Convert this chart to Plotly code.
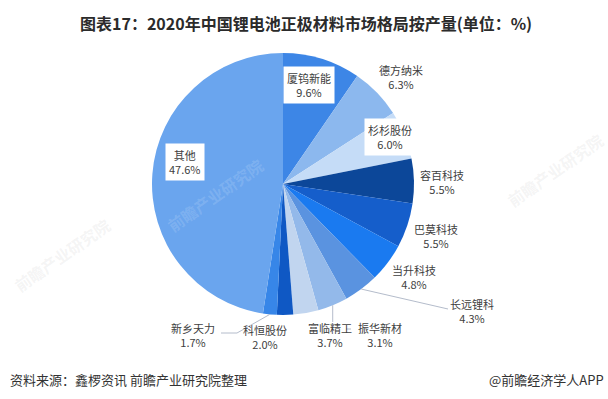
import math
import plotly.graph_objects as go

# ---- data ----
companies = ["厦钨新能", "德方纳米", "杉杉股份", "容百科技", "巴莫科技", "当升科技",
             "长远锂科", "富临精工", "振华新材", "科恒股份", "新乡天力", "其他"]
shares = [9.6, 6.3, 6.0, 5.5, 5.5, 4.8, 4.3, 3.7, 3.1, 2.0, 1.7, 47.6]

# ---- styles ----
colors = ["#3d86e6", "#8cb8ee", "#c5dcf7", "#0c4799", "#155ecb", "#1a7af0",
          "#5a93e0", "#93b9ea", "#c1d5ef", "#0f58c4", "#3786e8", "#6aa5ee"]
W, H = 608, 399
CX, CY, R = 283, 184, 131

# label centre positions in pixels (layout)
label_pos = {
    "厦钨新能": (309, 85), "德方纳米": (401, 77), "杉杉股份": (390, 137),
    "容百科技": (442, 182), "巴莫科技": (436, 236), "当升科技": (414, 277),
    "长远锂科": (472, 311), "富临精工": (330, 335), "振华新材": (380, 335),
    "科恒股份": (265, 337), "新乡天力": (193, 335), "其他": (185, 162),
}
boxed = {"厦钨新能", "杉杉股份", "其他"}

def px(x):
    return x / W

def py(y):
    return 1 - y / H

fig = go.Figure(go.Pie(
    labels=companies, values=shares, sort=False, direction="clockwise",
    rotation=0, marker=dict(colors=colors, line=dict(width=0)),
    textinfo="none", hoverinfo="label+value", showlegend=False,
    domain=dict(x=[px(CX - R), px(CX + R)], y=[py(CY + R), py(CY - R)]),
))

total = sum(shares)
cum = 0.0
mid_angle = {}
for name, v in zip(companies, shares):
    mid_angle[name] = (cum + v / 2) / total * 2 * math.pi
    cum += v

def edge_point(name, k=1.0):
    a = mid_angle[name]
    return CX + R * k * math.sin(a), CY - R * k * math.cos(a)

annotations = []

# faint watermarks
for (wx, wy, col) in [(215, 195, "rgba(255,255,255,0.14)"),
                      (555, 170, "rgba(180,180,180,0.14)"),
                      (62, 255, "rgba(180,180,180,0.14)")]:
    annotations.append(dict(
        x=px(wx), y=py(wy), xref="paper", yref="paper", showarrow=False,
        xanchor="center", yanchor="middle", textangle=-35,
        text="<b>前瞻产业研究院</b>",
        font=dict(family="Noto Sans CJK SC", size=16, color=col)))

for name, v in zip(companies, shares):
    x, y = label_pos[name]
    annotations.append(dict(
        x=px(x), y=py(y), xref="paper", yref="paper", showarrow=False,
        xanchor="center", yanchor="middle",
        text=f"{name}<br>{v:.1f}%", align="center",
        font=dict(family="Noto Sans CJK SC", size=11, color="#404040"),
        bgcolor="white" if name in boxed else "rgba(0,0,0,0)",
        borderpad=3,
    ))

line_style = dict(color="#b4bccb", width=1)
shapes = []

def seg(x0, y0, x1, y1):
    shapes.append(dict(type="line", xref="paper", yref="paper",
                       x0=px(x0), y0=py(y0), x1=px(x1), y1=py(y1), line=line_style))

# 长远锂科
ex, ey = edge_point("长远锂科", 1.0)
seg(ex, ey, 448, 309)
# 富临精工
ex, ey = edge_point("富临精工", 1.0)
seg(ex, ey, ex, 322)
# 新乡天力
ex, ey = edge_point("新乡天力", 1.0)
seg(ex, ey, 237, 333)
seg(237, 333, 221, 333)
# 振华新材 short dash
seg(346, 329, 351, 329)

# title & footer
annotations.append(dict(
    x=px(306), y=py(23), xref="paper", yref="paper", showarrow=False,
    xanchor="center", yanchor="middle",
    text="<b>图表17：2020年中国锂电池正极材料市场格局按产量(单位：%)</b>",
    font=dict(family="Noto Sans CJK SC", size=16, color="#2b2b2b")))
annotations.append(dict(
    x=px(8), y=py(379), xref="paper", yref="paper", showarrow=False,
    xanchor="left", yanchor="middle",
    text="资料来源：鑫椤资讯 前瞻产业研究院整理",
    font=dict(family="Noto Sans CJK SC", size=13, color="#333333")))
annotations.append(dict(
    x=px(606), y=py(379), xref="paper", yref="paper", showarrow=False,
    xanchor="right", yanchor="middle",
    text="@前瞻经济学人APP",
    font=dict(family="Noto Sans CJK SC", size=13, color="#333333")))

fig.update_layout(
    width=W, height=H, margin=dict(l=0, r=0, t=0, b=0),
    paper_bgcolor="white", plot_bgcolor="white",
    annotations=annotations, shapes=shapes,
)

fig.write_html("out.html", config={"displayModeBar": False},
               post_script="document.body.style.margin='0';")
